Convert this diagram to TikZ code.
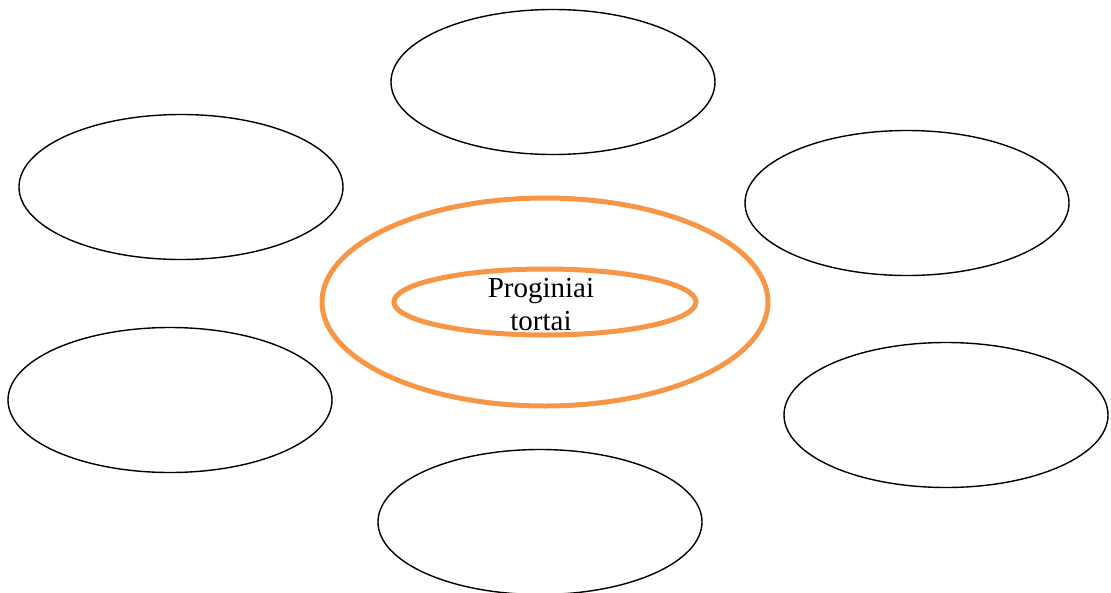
\documentclass[tikz,border=0pt]{standalone}
\usepackage{fontspec}
\setmainfont{Liberation Serif}
\usetikzlibrary{shapes.geometric}
\definecolor{ringorange}{HTML}{F79646}
\tikzset{
  petal/.style={ellipse, draw=black, line width=1.4pt, inner sep=0pt,
    minimum width=324pt, minimum height=145pt},
  ring/.style={ellipse, draw=ringorange, line width=5pt, inner sep=0pt},
}
\begin{document}
\begin{tikzpicture}[x=1pt,y=-1pt]
  \useasboundingbox (0,0) rectangle (1111,592);
  % surrounding empty ellipses
  \node[petal] (top)    at (553,82)  {};
  \node[petal] (lefta)  at (181,187) {};
  \node[petal] (righta) at (907,203) {};
  \node[petal] (leftb)  at (170,400) {};
  \node[petal] (rightb) at (946,415) {};
  \node[petal] (bottom) at (540,522) {};
  % central double ring
  \node[ring, minimum width=446pt, minimum height=208pt] (outer) at (545,302) {};
  \node[ring, minimum width=302pt, minimum height=66pt] (inner) at (545,302) {};
  \node[align=center, font=\fontsize{29}{33}\selectfont, inner sep=0pt]
    (label) at (541,305) {Proginiai\\tortai};
\end{tikzpicture}
\end{document}
